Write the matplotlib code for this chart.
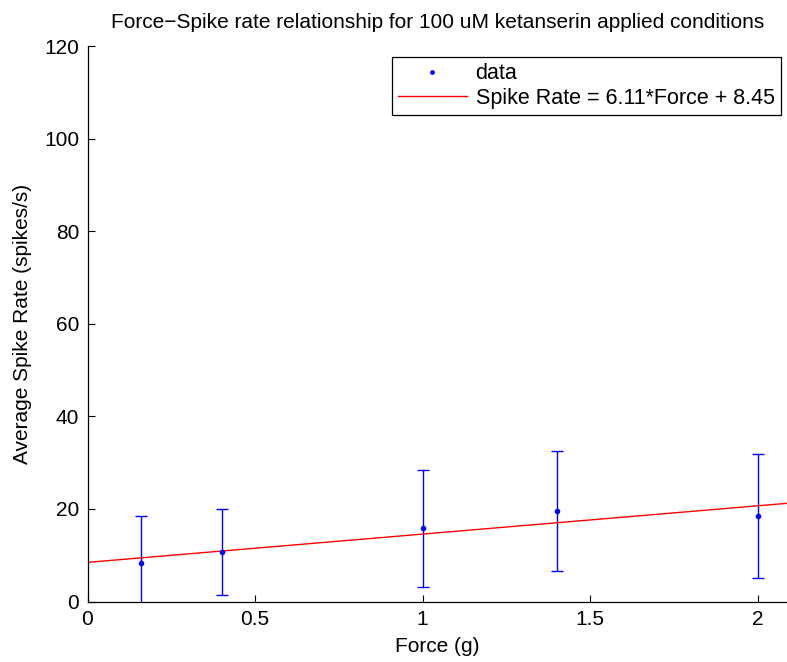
import matplotlib
matplotlib.use("Agg")
import matplotlib.pyplot as plt
import numpy as np

plt.rcParams['font.family'] = ['Liberation Sans', 'DejaVu Sans']

force = [0.16, 0.4, 1.0, 1.4, 2.0]
rate = [8.26, 10.7, 15.8, 19.6, 18.5]
err = [10.25, 9.3, 12.6, 12.95, 13.4]
slope = 6.11
intercept = 8.45

W, H = 787, 662
fig = plt.figure(figsize=(W / 100, H / 100), dpi=100)
x0, x1 = 87.5, 787
y0, y1 = 601.5, 46
ax = fig.add_axes([x0 / W, 1 - y0 / H, (x1 - x0) / W, (y0 - y1) / H])

xmax = (x1 - x0) / 335.0
ax.errorbar(force, rate, yerr=err, fmt='none', ecolor=(0, 0, 1), elinewidth=1.0,
            capsize=4.3, capthick=1.0, zorder=2)
ax.plot(force, rate, '.', color=(0, 0, 1), markersize=6, label='data', zorder=3)
xl = np.array([0, xmax])
ax.plot(xl, slope * xl + intercept, '-', color=(1, 0, 0), linewidth=1.0,
        label='Spike Rate = %.2f*Force + %.2f' % (slope, intercept), zorder=2)

fs = 15
ax.set_xlim(0, xmax)
ax.set_ylim(0, 120)
ax.set_xticks([0, 0.5, 1, 1.5, 2])
ax.set_xticklabels(['0', '0.5', '1', '1.5', '2'])
ax.set_yticks([0, 20, 40, 60, 80, 100, 120])
ax.tick_params(direction='in', length=5, width=0.8, labelsize=fs, pad=6)
ax.spines['top'].set_visible(False)
ax.spines['right'].set_visible(False)
for s in ['left', 'bottom']:
    ax.spines[s].set_linewidth(0.9)

ax.set_xlabel('Force (g)', fontsize=fs, labelpad=6)
ax.set_ylabel('Average Spike Rate (spikes/s)', fontsize=fs, labelpad=9)
ax.set_title('Force\u2212Spike rate relationship for 100 uM ketanserin applied conditions',
             fontsize=fs, pad=13)

leg = ax.legend(loc='upper right', bbox_to_anchor=(781 / W, 1 - 57 / H),
                bbox_transform=fig.transFigure, borderaxespad=0, fontsize=15.5,
                fancybox=False, framealpha=1, edgecolor='black', handlelength=3.2,
                borderpad=0.3, labelspacing=0.15, handletextpad=0.4, markerscale=0.8)
leg.get_frame().set_linewidth(0.9)

fig.savefig('out.png', dpi=100)
